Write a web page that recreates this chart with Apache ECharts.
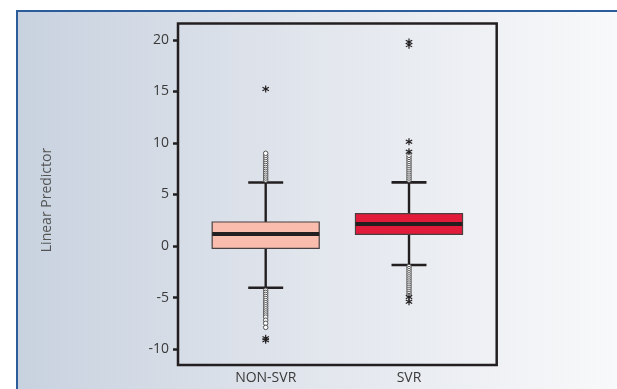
<!DOCTYPE html>
<html>
<head>
<meta charset="utf-8">
<script src="https://cdn.jsdelivr.net/npm/echarts@6/dist/echarts.min.js"></script>
<style>
html, body { margin: 0; padding: 0; background: #fff; }
#chart { width: 617px; height: 389px; }
</style>
</head>
<body>
<div id="chart"></div>
<script>
// data
var categories = ['NON-SVR', 'SVR'];
var catPos = [1, 2];
var boxLow = [-4.05, -1.84];
var boxQ1 = [-0.22, 1.13];
var boxMedian = [1.17, 2.14];
var boxQ3 = [2.33, 3.14];
var boxHigh = [6.17, 6.18];
var yTicks = [-10, -5, 0, 5, 10, 15, 20];

// open circle outliers
var nonSvrCircles = [6.4, 6.6, 6.8, 7.0, 7.2, 7.4, 7.6, 7.8, 8.0, 8.2, 8.4, 8.6, 8.8, 9.0,
    -4.3, -4.5, -4.7, -4.9, -5.1, -5.3, -5.5, -5.7, -5.9, -6.1, -6.3, -6.5, -6.7, -6.9, -7.2, -7.5, -7.9];
var svrCircles = [6.4, 6.6, 6.8, 7.0, 7.2, 7.4, 7.6, 7.8, 8.0, 8.2, 8.4, 8.6, 8.8,
    -2.0, -2.2, -2.4, -2.6, -2.8, -3.0, -3.2, -3.4, -3.6, -3.8, -4.0, -4.2, -4.4, -4.6, -4.8];
// extreme (star) outliers
var nonSvrStars = [15.24, -8.95, -9.15];
var svrStars = [19.8, 19.5, 10.13, 9.15, -4.95, -5.4];

var boxColors = ['#f9bcad', '#e31b3b'];
var BOX_WIDTH = 0.747;
var CAP_WIDTH = 0.244;
var INK = '#231f20';
var STAR = 'path://M4.2 0L5.8 0L5.8 10L4.2 10Z M8.93 1.81L9.73 3.19L1.07 8.19L0.27 6.81Z M0.27 3.19L1.07 1.81L9.73 6.81L8.93 8.19Z';

var boxData = categories.map(function (c, i) {
    return [catPos[i], boxLow[i], boxQ1[i], boxMedian[i], boxQ3[i], boxHigh[i]];
});
function toPoints(x, values) {
    return values.map(function (v) { return [x, v]; });
}
var circleData = toPoints(catPos[0], nonSvrCircles).concat(toPoints(catPos[1], svrCircles));
var starData = toPoints(catPos[0], nonSvrStars).concat(toPoints(catPos[1], svrStars));

function renderBox(params, api) {
    var x = api.value(0);
    var pLow = api.coord([x, api.value(1)]);
    var pQ1 = api.coord([x, api.value(2)]);
    var pMed = api.coord([x, api.value(3)]);
    var pQ3 = api.coord([x, api.value(4)]);
    var pHigh = api.coord([x, api.value(5)]);
    var halfBox = api.size([BOX_WIDTH, 0])[0] / 2;
    var halfCap = api.size([CAP_WIDTH, 0])[0] / 2;
    var ls = { stroke: INK, lineWidth: 2.4 };
    return {
        type: 'group',
        children: [
            { type: 'line', shape: { x1: pHigh[0], y1: pHigh[1], x2: pQ3[0], y2: pQ3[1] }, style: ls },
            { type: 'line', shape: { x1: pLow[0], y1: pLow[1], x2: pQ1[0], y2: pQ1[1] }, style: ls },
            { type: 'line', shape: { x1: pHigh[0] - halfCap, y1: pHigh[1], x2: pHigh[0] + halfCap, y2: pHigh[1] }, style: { stroke: INK, lineWidth: 2.6 } },
            { type: 'line', shape: { x1: pLow[0] - halfCap, y1: pLow[1], x2: pLow[0] + halfCap, y2: pLow[1] }, style: { stroke: INK, lineWidth: 2.6 } },
            {
                type: 'rect',
                shape: { x: pQ3[0] - halfBox, y: pQ3[1], width: halfBox * 2, height: pQ1[1] - pQ3[1] },
                style: { fill: boxColors[params.dataIndex], stroke: '#4a4041', lineWidth: 1.2 }
            },
            { type: 'line', shape: { x1: pMed[0] - halfBox, y1: pMed[1], x2: pMed[0] + halfBox, y2: pMed[1] }, style: { stroke: INK, lineWidth: 4 } }
        ]
    };
}

var chart = echarts.init(document.getElementById('chart'));
var FONT = 'Open Sans';

var option = {
    animation: false,
    graphic: [
        { type: 'rect', z: -10, shape: { x: 0, y: 0, width: 617, height: 389 }, style: { fill: '#fff' } },
        {
            type: 'rect', z: -9, shape: { x: 17, y: 11, width: 600, height: 378 },
            style: {
                fill: new echarts.graphic.LinearGradient(0, 0, 1, 0, [
                    { offset: 0, color: '#c8d2df' },
                    { offset: 0.5, color: '#e2e6ed' },
                    { offset: 1, color: '#f8f9fa' }
                ])
            }
        },
        { type: 'rect', z: -8, shape: { x: 16, y: 10, width: 601, height: 2 }, style: { fill: '#2d5c9b' } },
        { type: 'rect', z: -8, shape: { x: 16, y: 10, width: 2, height: 379 }, style: { fill: '#2d5c9b' } },
        {
            type: 'text', z: 5, x: 47, y: 200, rotation: Math.PI / 2,
            style: { text: 'Linear Predictor', font: '14px "Open Sans"', fill: '#555', align: 'center', verticalAlign: 'middle' }
        }
    ],
    grid: {
        left: 178, top: 23.5, width: 318.7, height: 341.5,
        show: true, borderColor: INK, borderWidth: 2.5, backgroundColor: 'transparent'
    },
    xAxis: {
        type: 'value', min: 0.388, max: 2.612,
        splitLine: { show: false },
        axisLine: { show: false },
        axisTick: { show: false },
        axisLabel: {
            customValues: catPos,
            formatter: function (v) { return categories[catPos.indexOf(Math.round(v))]; },
            fontFamily: FONT, fontSize: 14, color: '#3a3a3a', margin: 6
        }
    },
    yAxis: {
        type: 'value', min: -11.55, max: 21.6,
        splitLine: { show: false },
        axisLine: { show: false },
        axisTick: { show: true, length: 5, customValues: yTicks, lineStyle: { color: INK, width: 2.5 } },
        axisLabel: { customValues: yTicks, fontFamily: FONT, fontSize: 14, color: '#3a3a3a', margin: 9 }
    },
    series: [
        { type: 'custom', renderItem: renderBox, data: boxData, z: 2 },
        {
            type: 'scatter', data: circleData, symbol: 'circle', symbolSize: 4.5, z: 3,
            itemStyle: { color: '#fff', borderColor: '#555', borderWidth: 1, opacity: 1 }
        },
        {
            type: 'scatter', data: starData, symbol: STAR, symbolSize: 7, z: 4,
            itemStyle: { color: INK, opacity: 1 }
        }
    ]
};
chart.setOption(option);
</script>
</body>
</html>
